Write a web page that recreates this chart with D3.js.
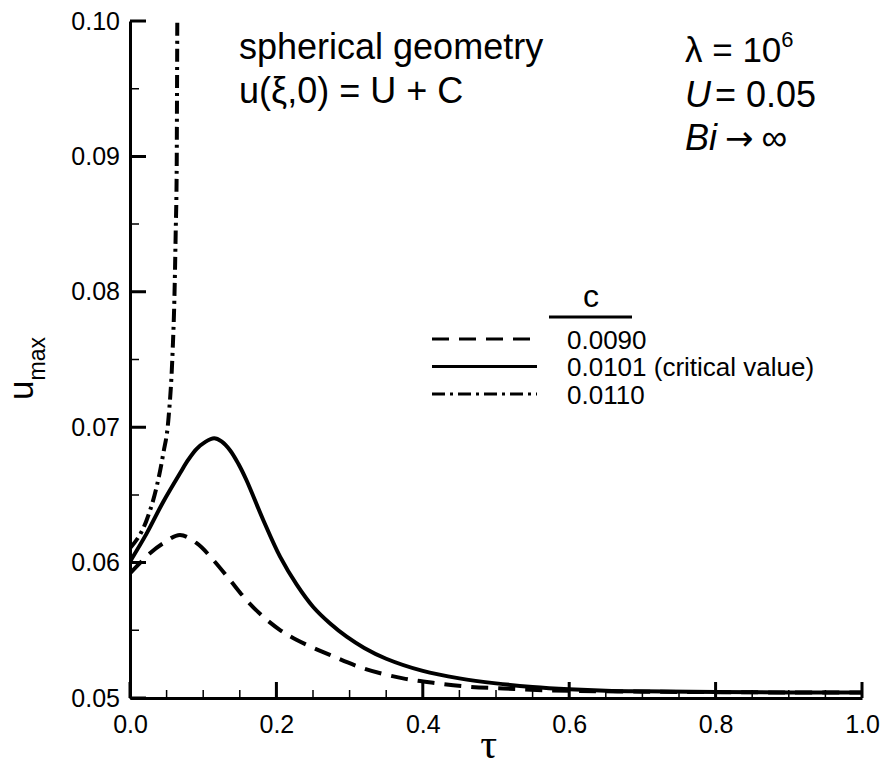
<!DOCTYPE html>
<html>
<head>
<meta charset="utf-8">
<script src="https://cdn.jsdelivr.net/npm/d3@7"></script>
<style>
  body { margin: 0; background: #fff; }
  text { font-family: "Liberation Sans", Arial, sans-serif; fill: #000; }
</style>
</head>
<body>
<div id="chart"></div>
<script>
// Values: tau and u_max for each C
const tauDashed = [0, 0.0273, 0.0455, 0.0683, 0.0911, 0.1138, 0.1366, 0.159, 0.182, 0.205, 0.228, 0.273, 0.319, 0.373, 0.419, 0.464, 0.510, 0.556, 0.601, 0.70, 0.80, 0.90, 1.0];
const uDashed   = [0.05921, 0.06069, 0.06143, 0.06204, 0.06143, 0.06019, 0.05871, 0.05724, 0.0560, 0.05502, 0.05428, 0.05318, 0.05219, 0.05145, 0.05109, 0.05083, 0.05070, 0.05059, 0.05053, 0.05047, 0.05043, 0.05041, 0.0504];

const tauSolid = [0, 0.0228, 0.0455, 0.0683, 0.0797, 0.0911, 0.1025, 0.115, 0.125, 0.1366, 0.148, 0.159, 0.182, 0.205, 0.228, 0.250, 0.273, 0.296, 0.32, 0.35, 0.40, 0.45, 0.50, 0.55, 0.60, 0.65, 0.70, 0.80, 0.90, 1.0];
const uSolid   = [0.06007, 0.06216, 0.0645, 0.0666, 0.0676, 0.0684, 0.0689, 0.06918, 0.06895, 0.0683, 0.0673, 0.0661, 0.06315, 0.06044, 0.05835, 0.05674, 0.05552, 0.05453, 0.0537, 0.0529, 0.0520, 0.05145, 0.05108, 0.05082, 0.05065, 0.05054, 0.05049, 0.05044, 0.05041, 0.0504];

const tauDashDot = [0, 0.0228, 0.0364, 0.0455, 0.0524, 0.0583, 0.0606, 0.0624, 0.0638, 0.0642, 0.0646];
const uDashDot   = [0.06106, 0.06315, 0.0656, 0.06807, 0.07053, 0.0757, 0.0794, 0.0843, 0.0892, 0.0942, 0.0999];

const legendLabels = ["0.0090", "0.0101 (critical value)", "0.0110"];
const xTicks = [0, 0.2, 0.4, 0.6, 0.8, 1.0];
const yTicks = [0.05, 0.06, 0.07, 0.08, 0.09, 0.10];
const xMinor = d3.range(0.05, 1, 0.05);
const yMinor = d3.range(0.055, 0.1, 0.01);

const width = 885, height = 766;
const margin = { top: 21, right: 23, bottom: 68, left: 130 };
const w = width - margin.left - margin.right;
const h = height - margin.top - margin.bottom;

const svg = d3.select("#chart").append("svg")
  .attr("width", width)
  .attr("height", height);

const g = svg.append("g")
  .attr("transform", "translate(" + margin.left + "," + margin.top + ")");

const x = d3.scaleLinear().domain([0, 1]).range([0, w]);
const y = d3.scaleLinear().domain([0.05, 0.10]).range([h, 0]);

g.append("clipPath").attr("id", "clip")
  .append("rect").attr("width", w).attr("height", h + 2).attr("y", -1);

// curves
const smooth = d3.line()
  .x(d => x(d[0]))
  .y(d => y(d[1]))
  .curve(d3.curveCatmullRom.alpha(0.5));

const steep = d3.line()
  .x(d => x(d[0]))
  .y(d => y(d[1]))
  .curve(d3.curveMonotoneX);

const series = [
  { pts: d3.zip(tauDashed, uDashed), dash: "17,10", line: smooth },
  { pts: d3.zip(tauSolid, uSolid), dash: null, line: smooth },
  { pts: d3.zip(tauDashDot, uDashDot), dash: "13,5,3,5", line: steep }
];

series.forEach(s => {
  g.append("path")
    .datum(s.pts)
    .attr("clip-path", "url(#clip)")
    .attr("fill", "none")
    .attr("stroke", "#000")
    .attr("stroke-width", 4)
    .attr("stroke-dasharray", s.dash)
    .attr("d", s.line);
});

// axes: labels and axis lines from d3.axis
const xAxis = g.append("g")
  .attr("transform", "translate(0," + h + ")")
  .call(d3.axisBottom(x).tickValues(xTicks).tickSize(0).tickPadding(17).tickFormat(d3.format(".1f")));

const yAxis = g.append("g")
  .call(d3.axisLeft(y).tickValues(yTicks).tickSize(0).tickPadding(10).tickFormat(d3.format(".2f")));

[xAxis, yAxis].forEach(a => {
  a.select(".domain").attr("stroke", "#000").attr("stroke-width", 3);
  a.selectAll("text").attr("font-family", "Liberation Sans, Arial, sans-serif").attr("fill", "#000").attr("font-size", 25);
});

// inward tick marks, drawn as one path each from the scales
const xTickPath = (vals, len) => vals.map(d => "M" + x(d) + "," + h + "V" + (h - len)).join("");
const yTickPath = (vals, len) => vals.map(d => "M0," + y(d) + "H" + len).join("");

g.append("path").attr("d", xTickPath(xTicks, 16)).attr("stroke", "#000").attr("stroke-width", 3).attr("fill", "none");
g.append("path").attr("d", xTickPath(xMinor, 8)).attr("stroke", "#000").attr("stroke-width", 1.5).attr("fill", "none");
g.append("path").attr("d", yTickPath(yTicks, 16)).attr("stroke", "#000").attr("stroke-width", 3).attr("fill", "none");
g.append("path").attr("d", yTickPath(yMinor, 9)).attr("stroke", "#000").attr("stroke-width", 1.5).attr("fill", "none");

// axis titles
svg.append("text")
  .attr("x", margin.left + x(0.49))
  .attr("y", 758)
  .attr("text-anchor", "middle")
  .style("font-family", "Liberation Serif, serif")
  .attr("font-size", 42)
  .text("τ");

const yl = svg.append("text")
  .attr("transform", "translate(33,400) rotate(-90)")
  .attr("font-size", 35);
yl.append("tspan").text("u");
yl.append("tspan").attr("dy", 12).attr("font-size", 23).text("max");

// annotations
const ann = svg.append("g");
ann.append("text").attr("x", 239).attr("y", 59).attr("font-size", 36).text("spherical geometry");
ann.append("text").attr("x", 239).attr("y", 103).attr("font-size", 36).text("u(ξ,0) = U + C");

const t1 = ann.append("text").attr("x", 685).attr("y", 62).attr("font-size", 35);
t1.append("tspan").text("λ = 10");
t1.append("tspan").attr("dy", -15).attr("font-size", 22).text("6");

const t2 = ann.append("text").attr("x", 685).attr("y", 107).attr("font-size", 36);
t2.append("tspan").attr("font-style", "italic").text("U");
t2.append("tspan").attr("dx", 4).text("= 0.05");

const t3 = ann.append("text").attr("x", 685).attr("y", 150).attr("font-size", 36);
t3.append("tspan").attr("font-style", "italic").text("Bi");
t3.append("tspan").attr("dx", 8).style("font-family", "DejaVu Sans, sans-serif").attr("font-size", 34).text("→");
t3.append("tspan").attr("dx", 8).text("∞");

// legend
const leg = svg.append("g");
leg.append("text").attr("x", 591).attr("y", 307).attr("text-anchor", "middle").attr("font-size", 32).text("c");
leg.append("line").attr("x1", 549).attr("x2", 632).attr("y1", 317).attr("y2", 317)
  .attr("stroke", "#000").attr("stroke-width", 3);

legendLabels.forEach((lab, i) => {
  const ly = 339 + i * 27.5;
  leg.append("line")
    .attr("x1", 432).attr("x2", 537).attr("y1", ly).attr("y2", ly)
    .attr("stroke", "#000").attr("stroke-width", 3)
    .attr("stroke-dasharray", series[i].dash);
  leg.append("text").attr("x", 567).attr("y", ly + 9.5).attr("font-size", 26).text(lab);
});
</script>
</body>
</html>
